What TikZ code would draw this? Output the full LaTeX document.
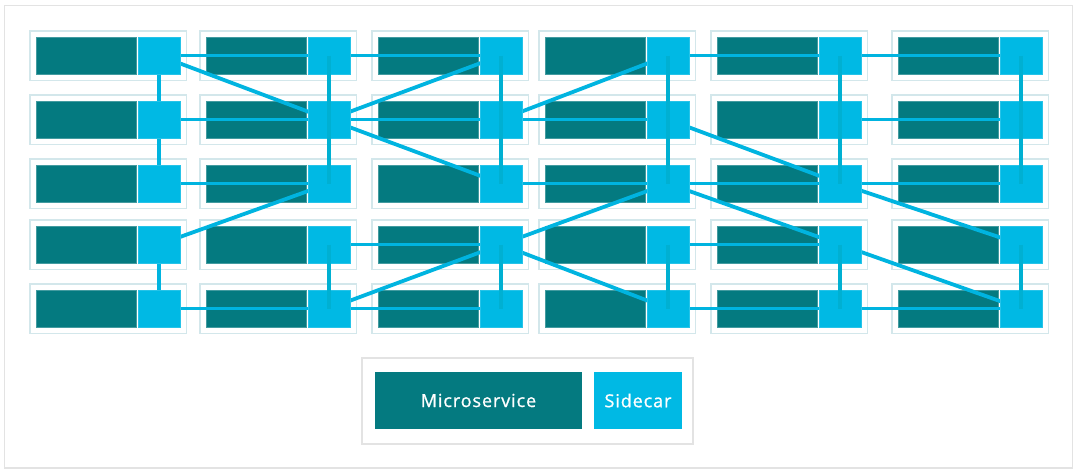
\documentclass[tikz,border=0pt]{standalone}
\usepackage{fontspec}
\setmainfont{Open Sans}
\newfontfamily\legendfont{Open Sans}[FakeBold=0.9,LetterSpace=5]
\definecolor{msteal}{HTML}{047A80}
\definecolor{sccyan}{HTML}{00B9E4}
\definecolor{lnblue}{HTML}{00B4E0}
\definecolor{lndark}{HTML}{00B0D2}
\definecolor{cellline}{HTML}{D3E7EB}
\definecolor{frameline}{HTML}{E3E3E3}
\pgfdeclarelayer{bg}
\pgfdeclarelayer{mid}
\pgfdeclarelayer{top}
\pgfsetlayers{bg,mid,main,top}
\tikzset{
  cellbox/.style={draw=cellline, line width=1.3pt},
  msbox/.style={fill=msteal, draw=msteal!75!white, line width=0.5pt, inner sep=0pt, outer sep=0pt,
    minimum width=99.5pt, minimum height=37pt, anchor=north west},
  scbox/.style={fill=sccyan, draw=sccyan!85!white, line width=0.5pt, inner sep=0pt, outer sep=0pt,
    minimum width=42pt, minimum height=37pt, anchor=north west},
  link/.style={draw=lnblue, line width=3.8pt},
  linktop/.style={draw=lndark, line width=3.5pt},
  legendtext/.style={text=white, font=\legendfont\fontsize{18}{21}\selectfont}
}
\begin{document}
\begin{tikzpicture}[x=1pt,y=-1pt]
\useasboundingbox (0,0) rectangle (1080,475);
\begin{pgfonlayer}{bg}
\fill[white] (0,0) rectangle (1080,475);
\draw[frameline, line width=1.5pt] (4.5,5.5) rectangle (1072.5,468);
\end{pgfonlayer}
% cells
\foreach \c/\L in {1/30,2/200,3/372,4/539,5/711,6/892}{
  \foreach \r/\T in {1/37,2/101,3/165,4/226,5/290}{
    \begin{pgfonlayer}{bg}
      \draw[cellbox] (\L,\T-6) rectangle (\L+156.5,\T+43.5);
      \node[msbox] (m\r\c) at (\L+6.5,\T) {};
    \end{pgfonlayer}
    \node[scbox] (s\r\c) at (\L+108,\T) {};
  }
}
% links
\begin{pgfonlayer}{mid}
\foreach \a/\b in {11/12,12/13,14/15,15/16,21/22,22/23,23/24,25/26,31/32,33/34,34/35,35/36,42/43,44/45,51/52,52/53,54/55,55/56,
  11/21,21/31,41/51,12/22,22/32,42/52,13/23,23/33,43/53,14/24,24/34,44/54,15/25,25/35,45/55,16/26,26/36,46/56,
  11/22,13/22,14/23,22/33,24/35,41/32,43/34,52/43,43/54,34/45,35/46,45/56}
  \draw[link] (s\a.center) -- (s\b.center);
\end{pgfonlayer}
\begin{pgfonlayer}{top}
\foreach \c in {2,...,6}{
  \draw[linktop] (s1\c.center) -- (s3\c.center);
  \draw[linktop] (s4\c.center) -- (s5\c.center);
}
\end{pgfonlayer}
% legend
\draw[frameline, line width=1.2pt] (362,358) rectangle (693,444);
\node[fill=msteal, inner sep=0pt, minimum width=207pt, minimum height=57pt, legendtext] (legms) at (478.5,400.5) {Microservice};
\node[fill=sccyan, inner sep=0pt, minimum width=88pt, minimum height=57pt, legendtext] (legsc) at (638,400.5) {Sidecar};
\end{tikzpicture}
\end{document}
